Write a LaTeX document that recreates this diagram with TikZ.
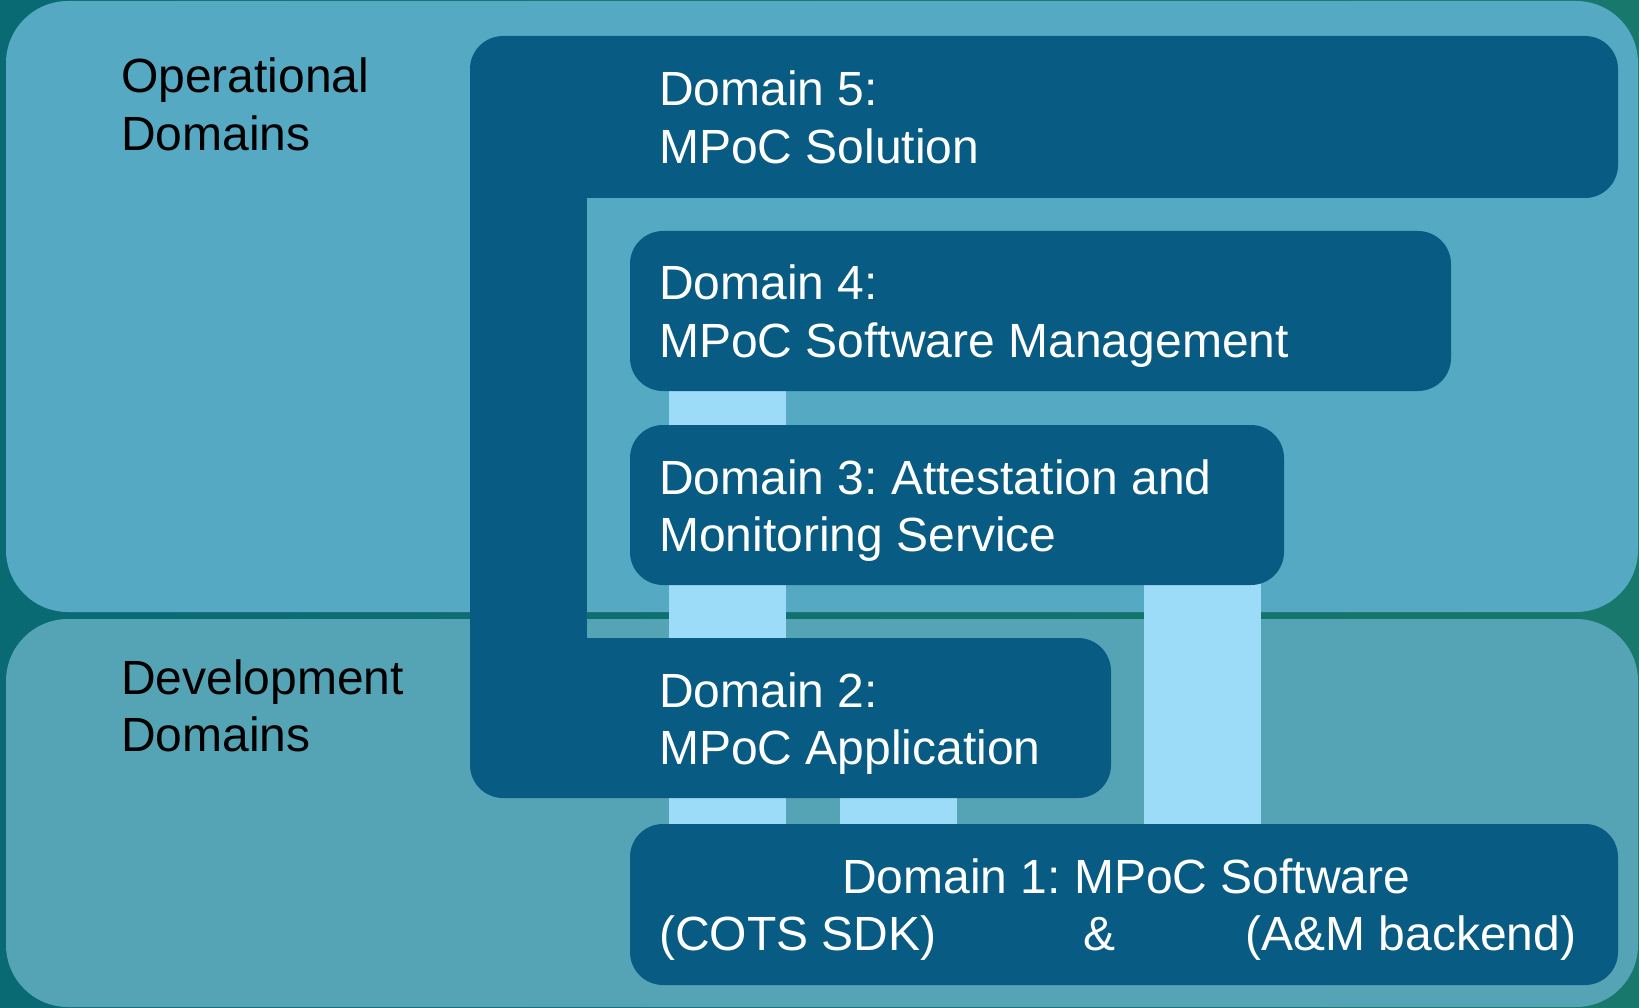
\documentclass[tikz,border=0pt]{standalone}
\usepackage{fontspec}
\setmainfont{Liberation Sans}
\frenchspacing
\pgfdeclarelayer{background}
\pgfdeclarelayer{middle}
\pgfsetlayers{background,middle,main}
\definecolor{bgleft}{HTML}{0A6A73}
\definecolor{bgright}{HTML}{17786B}
\definecolor{oppanel}{HTML}{55A9C3}
\definecolor{devpanel}{HTML}{55A4B6}
\definecolor{boxfill}{HTML}{085B82}
\definecolor{linkfill}{HTML}{9DDCF8}
\tikzset{
  panel/.style={rounded corners=62pt},
  dbox/.style={draw=none, fill=boxfill, rounded corners=33pt, inner sep=0pt, outer sep=0pt},
  boxtext/.style={anchor=base west, inner sep=0pt, text=white, font=\fontsize{48pt}{57.6pt}\selectfont\frenchspacing},
  labeltext/.style={anchor=base west, inner sep=0pt, text=black, font=\fontsize{48pt}{57.6pt}\selectfont},
  link/.style={draw=linkfill, line width=117pt, shorten <=-6pt, shorten >=-6pt}
}
\begin{document}
\begin{tikzpicture}[x=1pt, y=-1pt]
\useasboundingbox (0,0) rectangle (1639,1008);
\begin{pgfonlayer}{background}
  \shade[left color=bgleft, right color=bgright] (0,0) rectangle (1639,1008);
  \fill[oppanel, panel] (6,1) rectangle (1638,612);
  \fill[devpanel, panel] (6,619) rectangle (1638,1007);
\end{pgfonlayer}

% domain boxes
\node[dbox, minimum width=1148pt, minimum height=162pt] (d5) at (1044,117) {};
\node[dbox, minimum width=821pt, minimum height=160pt] (d4) at (1040.5,311) {};
\node[dbox, minimum width=654pt, minimum height=160pt] (d3) at (957,505) {};
\node[dbox, minimum width=641pt, minimum height=160pt] (d2) at (790.5,718) {};
\node[dbox, minimum width=988pt, minimum height=161pt] (d1) at (1124,904.5) {};
% vertical bar joining domain 5 and domain 2
\fill[boxfill] ([yshift=-30pt]d5.north west) rectangle ([xshift=117pt,yshift=30pt]d2.south west);

% connectors
\begin{pgfonlayer}{middle}
  \draw[link] ([xshift=97.5pt]d4.south west) -- ([xshift=97.5pt]d3.north west);
  \draw[link] ([xshift=97.5pt]d3.south west) -- ([xshift=257.5pt]d2.north west);
  \draw[link] ([xshift=257.5pt]d2.south west) -- ([xshift=97.5pt]d1.north west);
  \draw[link] ([xshift=428.5pt]d2.south west) -- ([xshift=268.5pt]d1.north west);
  \draw[link] ([xshift=572pt]d3.south west) -- ([xshift=572pt]d1.north west);
\end{pgfonlayer}

% labels
\node[labeltext] (lop) at (121,93) {\begin{tabular}[t]{@{}l@{}}Operational\\Domains\end{tabular}};
\node[labeltext] (ldev) at (121,694) {\begin{tabular}[t]{@{}l@{}}Development\\Domains\end{tabular}};

% box texts
\node[boxtext] (t5) at (659,106) {\begin{tabular}[t]{@{}l@{}}Domain 5:\\MPoC Solution\end{tabular}};
\node[boxtext] (t4) at (659,300) {\begin{tabular}[t]{@{}l@{}}Domain 4:\\MPoC Software Management\end{tabular}};
\node[boxtext] (t3) at (659,494) {\begin{tabular}[t]{@{}l@{}}Domain 3: Attestation and\\Monitoring Service\end{tabular}};
\node[boxtext] (t2) at (659,707) {\begin{tabular}[t]{@{}l@{}}Domain 2:\\MPoC Application\end{tabular}};
\node[boxtext] (t1) at (659,893) {\begin{tabular}[t]{@{}l@{}}\hspace*{183pt}Domain 1: MPoC Software\\\makebox[917pt][l]{(COTS SDK)\hspace{147pt}\&\hfill(A\&M backend)}\end{tabular}};
\end{tikzpicture}
\end{document}
